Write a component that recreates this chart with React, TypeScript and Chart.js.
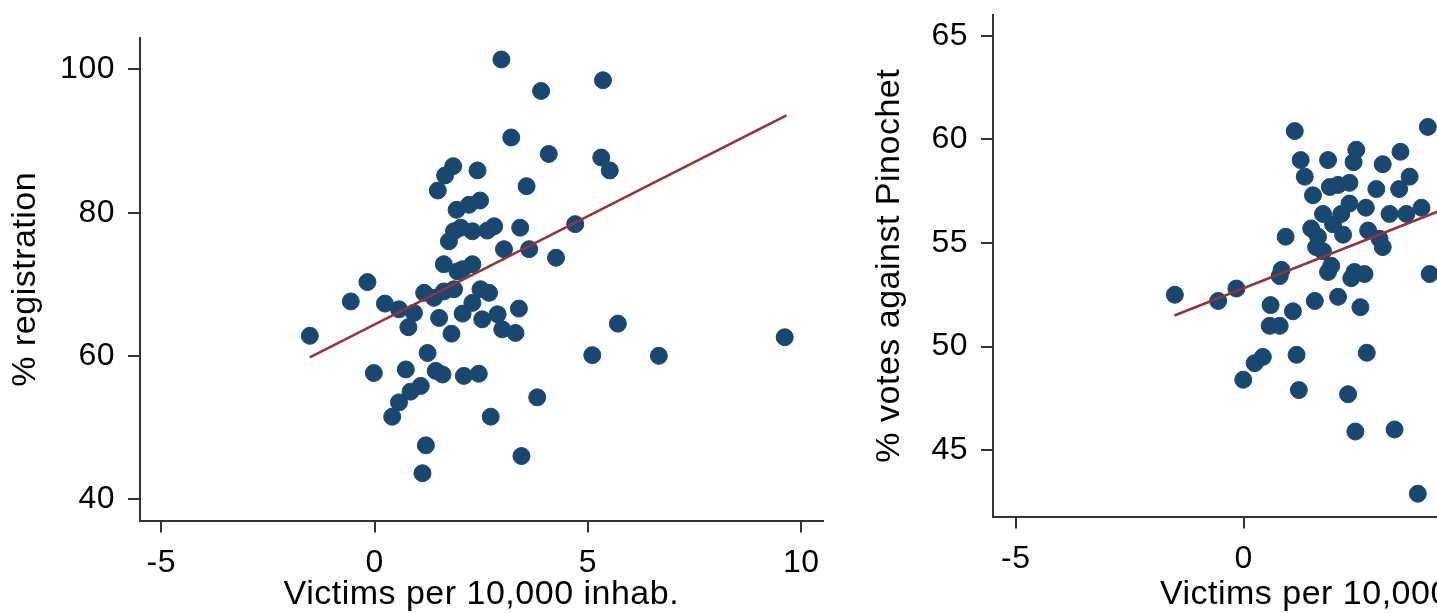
import React, { useEffect, useRef } from 'react';
import { Chart, registerables } from 'chart.js';

Chart.register(...registerables);

// ---------- data ----------
const victimsLeft = [
  2.97, 3.90, 5.35, 3.20, 4.08, 5.31, 5.51, 2.41, 1.84, 1.65, 1.48, 3.56, 1.92, 2.21, 2.47,
  4.70, 3.41, 2.80, 2.64, 2.29, 2.02, 1.86, 1.74, 3.03, 3.62, 4.25, 1.62, 1.94, 2.29, 2.06,
  -0.17, -0.56, 0.24, 0.57, 0.92, 1.16, 1.39, 1.62, 1.86, 2.48, 2.68, 2.29, 2.06, 2.52, 2.88,
  2.99, 3.30, 3.38, 1.51, 1.80, 0.79, -1.52, 5.70, 5.10, 6.66, 9.61, 1.24, -0.02, 0.73, 1.43,
  1.59, 2.09, 2.44, 1.08, 0.84, 0.57, 0.41, 3.81, 2.72, 1.20, 3.44, 1.12,
];
const registration = [
  101.4, 97.0, 98.5, 90.5, 88.2, 87.7, 85.9, 85.9, 86.5, 85.2, 83.1, 83.7, 80.4, 81.1, 81.7,
  78.4, 77.9, 78.1, 77.5, 77.4, 77.9, 77.4, 76.0, 74.9, 74.9, 73.7, 72.8, 71.8, 72.8, 72.1,
  70.3, 67.6, 67.3, 66.5, 66.0, 68.8, 68.1, 69.0, 69.3, 69.3, 68.8, 67.4, 65.9, 65.1, 65.8,
  63.7, 63.2, 66.6, 65.3, 63.1, 64.0, 62.8, 64.5, 60.1, 60.0, 62.6, 60.4, 57.6, 58.1, 57.9,
  57.4, 57.2, 57.5, 55.8, 55.0, 53.5, 51.5, 54.2, 51.5, 47.5, 46.0, 43.6,
];
const fitLeftX = [-1.52, 9.65];
const fitLeftY = [59.8, 93.6];

const victimsRight = [
  1.12, 1.25, 1.34, 1.52, 1.85, 2.47, 2.41, 3.05, 3.44, 3.64, 3.41, 2.91, 1.89, 2.07, 2.32,
  1.74, 2.32, 2.68, 2.14, 3.20, 3.57, 3.90, 4.04, 1.48, 1.63, 1.96, 2.18, 2.73, 2.98, 3.05,
  0.92, 1.59, 1.74, 1.92, 1.85, 2.43, 2.65, 2.36, 0.83, 0.79, -0.16, -0.56, -1.51, 1.56, 2.07,
  2.56, 0.59, 1.08, 4.08, 0.57, 0.79, 0.42, 0.24, -0.01, 1.16, 2.70, 1.21, 2.29, 2.45, 3.31,
  3.82,
];
const votesAgainst = [
  60.4, 59.0, 58.2, 57.3, 59.0, 59.5, 58.9, 58.8, 59.4, 58.2, 57.6, 57.6, 57.7, 57.8, 57.9,
  56.4, 56.9, 56.7, 56.4, 56.4, 56.4, 56.7, 60.6, 55.7, 55.3, 55.9, 55.4, 55.6, 55.2, 54.8,
  55.3, 54.8, 54.6, 53.9, 53.6, 53.6, 53.5, 53.3, 53.7, 53.4, 52.8, 52.2, 52.5, 52.2, 52.4,
  51.9, 52.0, 51.7, 53.5, 51.0, 51.0, 49.5, 49.2, 48.4, 49.6, 49.7, 47.9, 47.7, 45.9, 46.0,
  42.9,
];
const fitRightX = [-1.52, 9.65];
const fitRightY = [51.5, 61.2];

const xTicks = [-5, 0, 5, 10];
const yTicksLeft = [40, 60, 80, 100];
const yTicksRight = [45, 50, 55, 60, 65];

const xTitle = 'Victims per 10,000 inhab.';
const yTitleLeft = '% registration';
const yTitleRight = '% votes against Pinochet';

// ---------- styles ----------
const NAVY = '#1a476f';
const MAROON = '#90353b';
const AXIS = '#333333';
const TEXT = '#000000';
const FONT = "'Liberation Sans', Arial, Helvetica, sans-serif";

const spacingPlugin = {
  id: 'letterSpacing',
  beforeDraw(chart: any) {
    try {
      (chart.ctx as any).letterSpacing = '0.5px';
    } catch (e) {}
  },
};

type PanelProps = {
  xs: number[];
  ys: number[];
  fitX: number[];
  fitY: number[];
  yTicks: number[];
  yMin: number;
  yMax: number;
  yTitle: string;
  left: number;
  width: number;
  height: number;
  padTop: number;
  padRight: number;
  yAxisWidth: number;
  xAxisHeight: number;
  yTitlePad: number;
  xTitlePad: number;
};

function Panel(p: PanelProps) {
  const ref = useRef<HTMLCanvasElement | null>(null);
  useEffect(() => {
    if (!ref.current) return;
    const chart = new Chart(ref.current, {
      type: 'scatter',
      data: {
        datasets: [
          {
            type: 'line',
            data: p.fitX.map((x, i) => ({ x, y: p.fitY[i] })),
            borderColor: MAROON,
            borderWidth: 2.5,
            pointRadius: 0,
            fill: false,
            showLine: true,
            order: 0,
          } as any,
          {
            type: 'scatter',
            data: p.xs.map((x, i) => ({ x, y: p.ys[i] })),
            backgroundColor: NAVY,
            borderColor: NAVY,
            borderWidth: 1,
            pointRadius: 8.5,
            order: 1,
          } as any,
        ],
      },
      options: {
        responsive: false,
        animation: false,
        events: [],
        layout: { padding: { top: p.padTop, right: p.padRight, bottom: 0, left: 0 } },
        plugins: { legend: { display: false }, tooltip: { enabled: false } },
        scales: {
          x: {
            type: 'linear',
            min: -5.5,
            max: 10.5,
            afterBuildTicks: (s: any) => {
              s.ticks = xTicks.map((v) => ({ value: v }));
            },
            afterFit: (s: any) => {
              s.height = p.xAxisHeight;
              s.paddingLeft = 0;
              s.paddingRight = 0;
            },
            grid: { display: true, drawOnChartArea: false, drawTicks: true, tickLength: 12, color: AXIS, lineWidth: 2 },
            border: { display: true, color: AXIS, width: 2 },
            ticks: { padding: 11, color: TEXT, font: { size: 32, family: FONT }, maxRotation: 0 },
            title: {
              display: true,
              text: xTitle,
              color: TEXT,
              font: { size: 34, family: FONT },
              padding: { top: 0, bottom: p.xTitlePad },
            },
          },
          y: {
            type: 'linear',
            min: p.yMin,
            max: p.yMax,
            afterBuildTicks: (s: any) => {
              s.ticks = p.yTicks.map((v) => ({ value: v }));
            },
            afterFit: (s: any) => {
              s.width = p.yAxisWidth;
              s.paddingTop = 0;
              s.paddingBottom = 0;
            },
            grid: { display: true, drawOnChartArea: false, drawTicks: true, tickLength: 12, color: AXIS, lineWidth: 2 },
            border: { display: true, color: AXIS, width: 2 },
            ticks: { padding: 13, color: TEXT, font: { size: 32, family: FONT } },
            title: {
              display: true,
              text: p.yTitle,
              color: TEXT,
              font: { size: 34, family: FONT },
              padding: { top: p.yTitlePad, bottom: 0 },
            },
          },
        },
      } as any,
      plugins: [spacingPlugin],
    } as any);
    return () => chart.destroy();
  }, []);
  return (
    <canvas
      ref={ref}
      width={p.width}
      height={p.height}
      style={{ position: 'absolute', left: p.left, top: 0, width: p.width, height: p.height }}
    />
  );
}

export default function App() {
  useEffect(() => {
    document.body.style.margin = '0';
  }, []);
  return (
    <div
      style={{
        position: 'fixed',
        left: 0,
        top: 0,
        width: 1437,
        height: 613,
        overflow: 'hidden',
        background: '#ffffff',
      }}
    >
      <Panel
        xs={victimsLeft}
        ys={registration}
        fitX={fitLeftX}
        fitY={fitLeftY}
        yTicks={yTicksLeft}
        yMin={37.0}
        yMax={104.4}
        yTitle={yTitleLeft}
        left={0}
        width={860}
        height={630}
        padTop={38}
        padRight={37.3}
        yAxisWidth={140}
        xAxisHeight={109.5}
        yTitlePad={5.6}
        xTitlePad={15.1}
      />
      <Panel
        xs={victimsRight}
        ys={votesAgainst}
        fitX={fitRightX}
        fitY={fitRightY}
        yTicks={yTicksRight}
        yMin={41.8}
        yMax={66.0}
        yTitle={yTitleRight}
        left={860}
        width={900}
        height={630}
        padTop={15}
        padRight={37.7}
        yAxisWidth={133}
        xAxisHeight={113.5}
        yTitlePad={9}
        xTitlePad={15.1}
      />
    </div>
  );
}
